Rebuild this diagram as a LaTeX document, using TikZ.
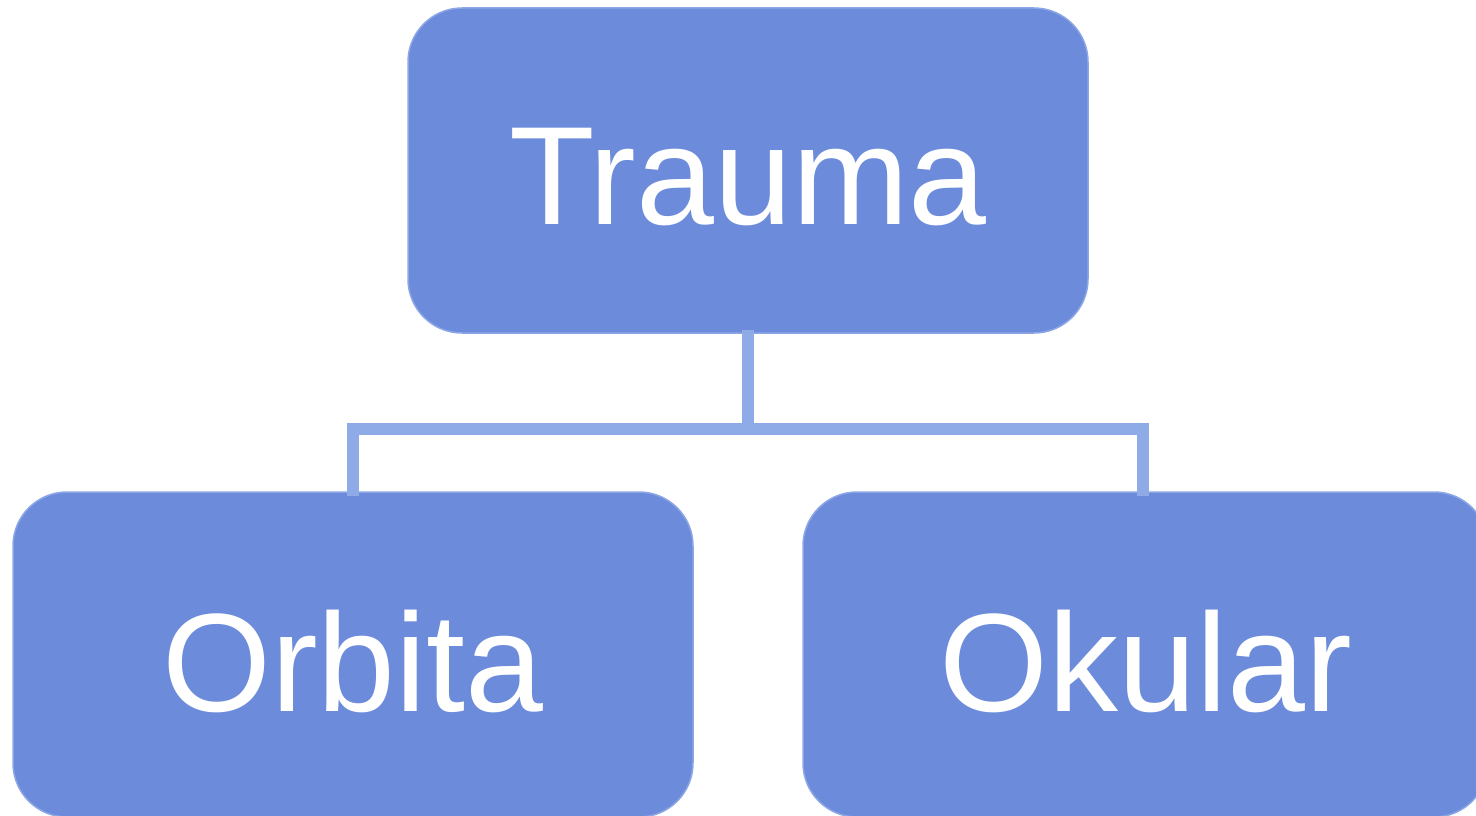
\documentclass[tikz,border=0pt]{standalone}
\usepackage{fontspec}
\setmainfont{Liberation Sans}
\definecolor{boxfill}{HTML}{6C8CDB}
\definecolor{boxedge}{HTML}{8CA6E6}
\definecolor{connc}{HTML}{8FABE7}
\newcommand{\boxtext}[1]{\raisebox{-6pt}[\height][0pt]{#1}}
\begin{document}
\begin{tikzpicture}[x=1pt,y=1pt,
  box/.style={draw=boxedge, line width=1.5pt, fill=boxfill, rounded corners=54pt,
    minimum width=680pt, minimum height=325pt, inner sep=0pt, text=white,
    font=\fontsize{140}{142}\selectfont},
  conn/.style={draw=connc, line width=12pt}]
\useasboundingbox (0,0) rectangle (1476,-816);
\node[box] (trauma) at (748,-170.5) {\boxtext{Trauma}};
\node[box] (orbita) at (353,-654.5) {\boxtext{Orbita}};
\node[box, minimum width=685pt] (okular) at (1145.5,-654.5) {\boxtext{Okular}};
\coordinate (mid) at (748,-429);
\draw[conn] ([yshift=4pt]trauma.south) -- ([yshift=-6pt]mid);
\draw[conn] ([yshift=-5pt]orbita.north) |- (mid) -| ([xshift=-2.5pt,yshift=-5pt]okular.north);
\end{tikzpicture}
\end{document}
